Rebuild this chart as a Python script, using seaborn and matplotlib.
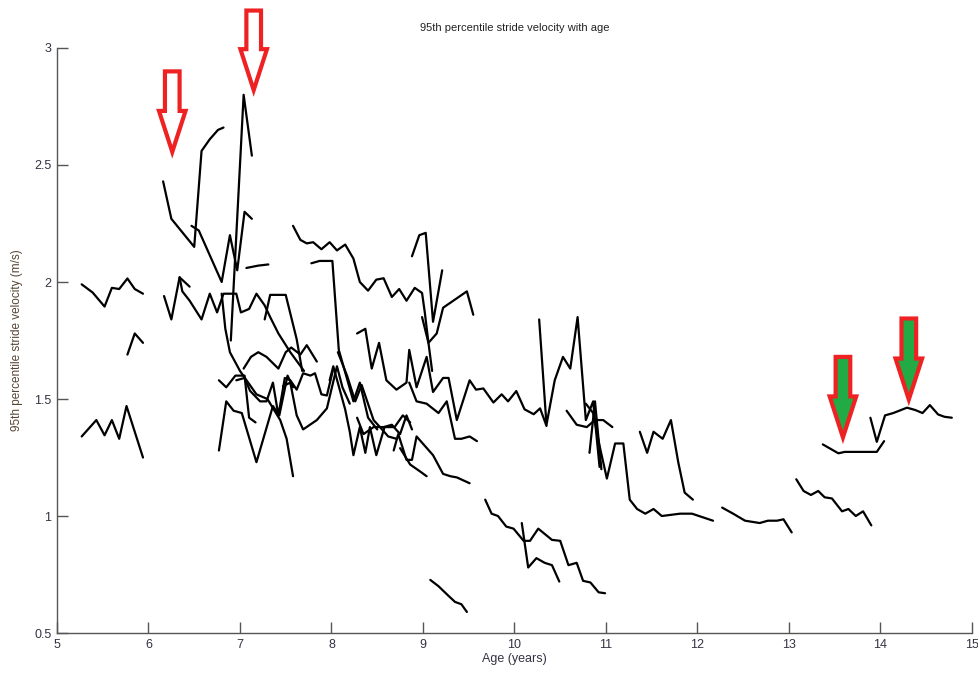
import matplotlib
matplotlib.use("Agg")
import matplotlib.pyplot as plt
from matplotlib.patches import FancyArrow
from matplotlib.ticker import FuncFormatter
import numpy as np
import pandas as pd
import seaborn as sns

# === Per-child traces: age (years) and 95th percentile stride velocity (m/s) ===
ages = [
    [5.27, 5.39, 5.52, 5.60, 5.68, 5.77, 5.85, 5.94],
    [5.77, 5.85, 5.94],
    [5.27, 5.43, 5.52, 5.60, 5.68, 5.76, 5.85, 5.94],
    [6.16, 6.25, 6.50, 6.58, 6.67, 6.76, 6.82],
    [6.47, 6.55, 6.80, 6.89, 6.97, 7.05, 7.13],
    [6.90, 7.04, 7.13],
    [6.17, 6.25, 6.34, 6.45],
    [6.34, 6.37, 6.45, 6.58, 6.67, 6.75, 6.82, 6.96, 7.01, 7.10, 7.18, 7.27, 7.33, 7.42, 7.55, 7.70],
    [7.07, 7.20, 7.31],
    [7.27, 7.33, 7.50, 7.62, 7.68],
    [6.80, 6.84, 6.89, 7.00, 7.18, 7.30, 7.44, 7.51, 7.58],
    [6.77, 6.85, 6.93, 7.02, 7.18, 7.36, 7.43, 7.52, 7.58],
    [6.77, 6.85, 6.95, 7.05, 7.10, 7.17],
    [7.04, 7.12, 7.20, 7.29, 7.42, 7.50, 7.56, 7.66, 7.73, 7.84],
    [6.96, 7.05, 7.11, 7.22, 7.29, 7.36, 7.42, 7.49, 7.55, 7.62, 7.69, 7.77, 7.82, 7.89, 7.95, 8.02],
    [7.47, 7.55, 7.62, 7.69, 7.84, 7.95, 8.06, 8.12, 8.20],
    [7.58, 7.66, 7.73, 7.80, 7.89, 7.98, 8.06, 8.15, 8.24, 8.31, 8.40, 8.49, 8.57, 8.66, 8.74, 8.82,
     8.91, 8.99, 9.02, 9.06, 9.10],
    [7.78, 7.87, 8.01, 8.08, 8.24, 8.31, 8.40, 8.50],
    [8.88, 8.96, 9.03, 9.11, 9.21],
    [8.99, 9.06, 9.15, 9.22, 9.48, 9.55],
    [8.28, 8.37, 8.44, 8.52, 8.60, 8.71, 8.82, 8.85, 8.93, 9.04, 9.11, 9.22, 9.28, 9.37, 9.51, 9.58,
     9.66, 9.77, 9.86, 9.93, 10.02, 10.11, 10.21, 10.28, 10.35],
    [10.27, 10.35, 10.44, 10.53, 10.61, 10.69, 10.78, 10.86, 10.93],
    [8.85, 8.93, 9.04, 9.17, 9.26, 9.35, 9.42, 9.51, 9.59],
    [10.57, 10.68, 10.79, 10.88, 10.97, 11.07],
    [10.78, 10.86, 10.93, 11.01, 11.10, 11.19, 11.26, 11.34, 11.43, 11.52, 11.61, 11.81, 11.94, 12.17],
    [10.82, 10.88, 10.95],
    [11.37, 11.45, 11.52, 11.62, 11.71, 11.79, 11.86, 11.95],
    [9.68, 9.75, 9.82, 9.91, 9.99, 10.10, 10.17, 10.26, 10.41, 10.50, 10.59, 10.68, 10.75, 10.83,
     10.92, 10.99],
    [10.08, 10.15, 10.24, 10.33, 10.41, 10.49],
    [9.08, 9.17, 9.26, 9.35, 9.42, 9.48],
    [12.27, 12.39, 12.52, 12.68, 12.77, 12.87, 12.94, 13.03],
    [13.08, 13.16, 13.24, 13.32, 13.39, 13.47, 13.58, 13.65, 13.73, 13.81, 13.90],
    [13.37, 13.54, 13.61, 13.96, 14.04],
    [13.89, 13.96, 14.05, 14.14, 14.29, 14.38, 14.46, 14.54, 14.63, 14.70, 14.78],
    [8.68, 8.73, 8.82, 8.88, 8.93, 9.11, 9.22, 9.30, 9.37, 9.51],
    [8.75, 8.86, 8.97, 9.04],
    [8.07, 8.17, 8.26, 8.33, 8.46, 8.53, 8.62, 8.71],
    [7.98, 8.02, 8.15, 8.20, 8.24, 8.31, 8.37, 8.42, 8.49, 8.58, 8.69, 8.78, 8.86],
    [8.28, 8.35, 8.46, 8.57, 8.66, 8.75, 8.82, 8.88],
]
velocities = [
    [1.99, 1.955, 1.895, 1.975, 1.97, 2.015, 1.97, 1.95],
    [1.69, 1.78, 1.74],
    [1.34, 1.41, 1.345, 1.41, 1.33, 1.47, 1.36, 1.25],
    [2.43, 2.27, 2.15, 2.56, 2.61, 2.65, 2.66],
    [2.24, 2.22, 2.00, 2.20, 2.05, 2.30, 2.27],
    [1.75, 2.80, 2.54],
    [1.94, 1.84, 2.02, 1.98],
    [2.02, 1.96, 1.92, 1.84, 1.95, 1.87, 1.95, 1.95, 1.87, 1.885, 1.95, 1.90, 1.85, 1.78, 1.70, 1.62],
    [2.06, 2.07, 2.075],
    [1.84, 1.945, 1.945, 1.755, 1.62],
    [1.95, 1.80, 1.70, 1.62, 1.52, 1.50, 1.41, 1.33, 1.17],
    [1.28, 1.49, 1.45, 1.44, 1.23, 1.47, 1.43, 1.60, 1.55],
    [1.58, 1.55, 1.60, 1.60, 1.42, 1.40],
    [1.63, 1.68, 1.70, 1.68, 1.63, 1.70, 1.72, 1.69, 1.73, 1.66],
    [1.58, 1.59, 1.535, 1.49, 1.49, 1.57, 1.43, 1.59, 1.58, 1.54, 1.61, 1.60, 1.61, 1.52, 1.515, 1.63],
    [1.555, 1.57, 1.43, 1.37, 1.41, 1.46, 1.64, 1.55, 1.48],
    [2.24, 2.18, 2.165, 2.17, 2.14, 2.17, 2.135, 2.16, 2.10, 2.00, 1.963, 2.01, 2.016, 1.936, 1.97,
     1.92, 1.975, 1.953, 1.87, 1.74, 1.62],
    [2.08, 2.09, 2.09, 1.71, 1.49, 1.57, 1.42, 1.37],
    [2.11, 2.20, 2.21, 1.83, 2.05],
    [1.85, 1.74, 1.78, 1.89, 1.96, 1.86],
    [1.78, 1.80, 1.63, 1.74, 1.58, 1.54, 1.57, 1.71, 1.55, 1.68, 1.53, 1.59, 1.59, 1.41, 1.58, 1.54,
     1.545, 1.485, 1.52, 1.49, 1.534, 1.456, 1.435, 1.46, 1.385],
    [1.84, 1.39, 1.58, 1.68, 1.63, 1.85, 1.41, 1.49, 1.21],
    [1.57, 1.49, 1.48, 1.44, 1.49, 1.33, 1.33, 1.34, 1.32],
    [1.45, 1.39, 1.38, 1.41, 1.41, 1.38],
    [1.48, 1.44, 1.30, 1.16, 1.31, 1.31, 1.07, 1.03, 1.01, 1.03, 1.00, 1.01, 1.01, 0.98],
    [1.27, 1.49, 1.20],
    [1.36, 1.27, 1.36, 1.33, 1.41, 1.23, 1.10, 1.07],
    [1.07, 1.01, 1.00, 0.955, 0.946, 0.894, 0.894, 0.946, 0.898, 0.894, 0.79, 0.80, 0.723, 0.716,
     0.674, 0.67],
    [0.97, 0.78, 0.82, 0.80, 0.79, 0.72],
    [0.727, 0.70, 0.666, 0.633, 0.623, 0.59],
    [1.036, 1.01, 0.98, 0.97, 0.98, 0.98, 0.986, 0.93],
    [1.157, 1.107, 1.09, 1.107, 1.08, 1.075, 1.02, 1.03, 1.00, 1.02, 0.96],
    [1.306, 1.268, 1.274, 1.274, 1.32],
    [1.42, 1.317, 1.43, 1.44, 1.463, 1.453, 1.44, 1.474, 1.434, 1.424, 1.42],
    [1.28, 1.35, 1.24, 1.24, 1.34, 1.26, 1.18, 1.17, 1.165, 1.14],
    [1.29, 1.22, 1.19, 1.17],
    [1.70, 1.60, 1.49, 1.56, 1.41, 1.38, 1.34, 1.33],
    [1.58, 1.64, 1.455, 1.36, 1.26, 1.38, 1.27, 1.38, 1.26, 1.38, 1.38, 1.43, 1.40],
    [1.42, 1.35, 1.38, 1.38, 1.39, 1.35, 1.43, 1.37],
]

# arrow annotations: (age, top, tip)
red_arrows = [(6.26, 2.90, 2.556), (7.15, 3.16, 2.82)]
green_arrows = [(13.59, 1.68, 1.336), (14.31, 1.844, 1.498)]

rows = []
for sid, (a, v) in enumerate(zip(ages, velocities)):
    for x, y in zip(a, v):
        rows.append({"subject": sid, "age": x, "vel": y})
df = pd.DataFrame(rows)

sns.set_style("ticks")
plt.rcParams["font.family"] = ["Liberation Sans", "DejaVu Sans"]

fig = plt.figure(figsize=(9.79, 6.73), dpi=100)
ax = fig.add_axes([0.0582, 0.0594, 0.9346, 0.8693])

sns.lineplot(data=df, x="age", y="vel", units="subject", estimator=None,
             sort=False, color="black", linewidth=1.6, ax=ax, legend=False)

# arrows
for xc, top, tip in red_arrows + green_arrows:
    fill = "white" if (xc, top, tip) in red_arrows else "#22aa44"
    arr = FancyArrow(xc, top, 0, tip - top, width=0.16, head_width=0.29,
                     head_length=0.175, length_includes_head=True,
                     facecolor=fill, edgecolor="#ee2222", linewidth=3.0,
                     clip_on=False, zorder=5)
    ax.add_patch(arr)

ax.set_xlim(5, 15)
ax.set_ylim(0.5, 3)
ax.set_xticks(np.arange(5, 16, 1))
ax.set_yticks([0.5, 1, 1.5, 2, 2.5, 3])
ax.yaxis.set_major_formatter(FuncFormatter(lambda v, p: f"{v:g}"))

sns.despine(ax=ax)
for s in ["left", "bottom"]:
    ax.spines[s].set_color("#555555")
    ax.spines[s].set_linewidth(1.0)
ax.tick_params(direction="in", length=8, width=1.0, color="#555555",
               labelsize=9, labelcolor="#333344", pad=4)

ax.set_xlabel("Age (years)", fontsize=9, color="#333344", labelpad=2)
ax.set_ylabel("95th percentile stride velocity (m/s)", fontsize=8.5,
              color="#554433", labelpad=8)
ax.set_title("95th percentile stride velocity with age", fontsize=8,
             color="#222222", pad=12)

fig.savefig("out.png", dpi=100)
